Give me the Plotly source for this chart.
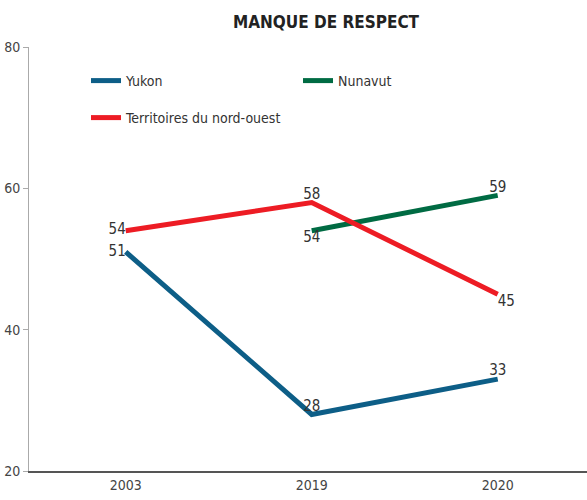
import plotly.graph_objects as go

years = ["2003", "2019", "2020"]
yukon = [51, 28, 33]
nwt = [54, 58, 45]
nunavut = [None, 54, 59]

yukon_pos = ["middle left", "top center", "top center"]
nwt_pos = ["middle left", "top center", "bottom right"]
nunavut_pos = ["bottom center", "bottom center", "top center"]

FONT = "DejaVu Sans Condensed, Liberation Sans Narrow, sans-serif"
LBL = dict(family=FONT, size=15, color="#333333")

fig = go.Figure()
fig.add_trace(go.Scatter(x=years, y=yukon, name="Yukon", mode="lines+text",
                         line=dict(color="#0d5e87", width=5),
                         text=[str(v) for v in yukon], textposition=yukon_pos,
                         textfont=LBL, legend="legend"))
fig.add_trace(go.Scatter(x=years, y=nunavut, name="Nunavut", mode="lines+text",
                         line=dict(color="#006b43", width=5),
                         text=["" if v is None else str(v) for v in nunavut],
                         textposition=nunavut_pos, textfont=LBL, legend="legend2"))
fig.add_trace(go.Scatter(x=years, y=nwt, name="Territoires du nord-ouest", mode="lines+text",
                         line=dict(color="#ed1c24", width=5),
                         text=[str(v) for v in nwt], textposition=nwt_pos,
                         textfont=LBL, legend="legend3"))

leg_font = dict(family=FONT, size=14, color="#333333")
PW, PH, L, T = 558, 424, 29, 47
def leg(xpx, ypx):
    return dict(orientation="h", x=(xpx - L) / PW, xanchor="left",
                y=1 - (ypx - T) / PH, yanchor="middle",
                font=leg_font, bgcolor="rgba(0,0,0,0)", itemwidth=30)

fig.update_layout(
    width=587, height=500,
    margin=dict(l=L, r=0, t=T, b=29, autoexpand=False),
    paper_bgcolor="white", plot_bgcolor="white",
    title=dict(text="<b>MANQUE DE RESPECT</b>", x=326/587, xanchor="center",
               y=1 - 22/500, yanchor="middle",
               font=dict(family=FONT, size=17, color="#222222")),
    showlegend=True,
    legend=leg(86, 81),
    legend2=leg(298, 81),
    legend3=leg(86, 118),
    xaxis=dict(type="category", range=[-0.52, 2.48], showgrid=False, automargin=False,
               showline=True, linecolor="#555555", linewidth=1.5,
               ticks="", tickfont=dict(family=FONT, size=14, color="#444444"),
               zeroline=False),
    yaxis=dict(range=[20, 80], tickvals=[20, 40, 60, 80], showgrid=False, automargin=False,
               showline=True, linecolor="#aaaaaa", linewidth=1,
               ticks="outside", ticklen=5, tickcolor="#aaaaaa",
               tickfont=dict(family=FONT, size=14, color="#444444"), zeroline=False),
)
fig.write_html("out.html", config={"displayModeBar": False},
               post_script="document.body.style.margin='0';document.body.style.overflow='hidden';")
